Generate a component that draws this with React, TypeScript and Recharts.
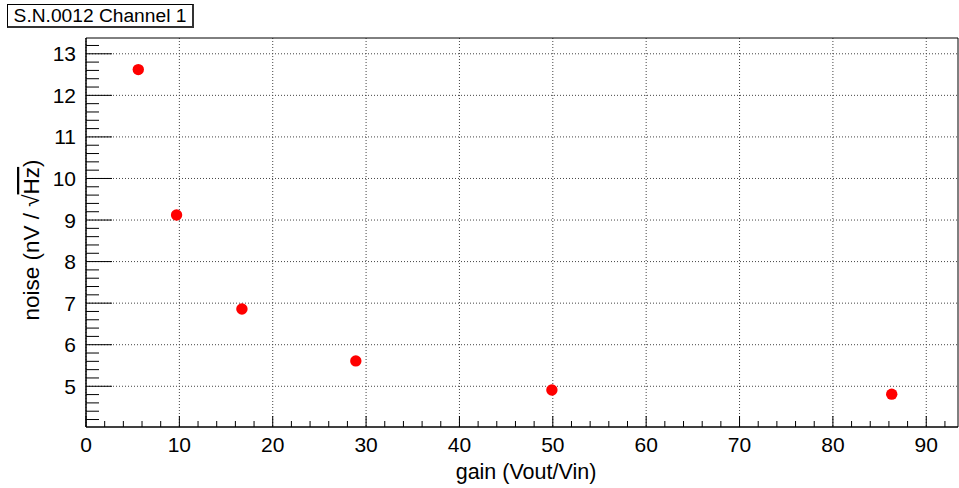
import { ScatterChart, Scatter, XAxis, YAxis, CartesianGrid, ReferenceArea } from "recharts";

const gain = [5.6, 9.7, 16.7, 28.9, 49.9, 86.3];
const noise = [12.62, 9.12, 6.86, 5.61, 4.91, 4.81];

const xMajor = [0, 10, 20, 30, 40, 50, 60, 70, 80, 90];
const yMajor = [5, 6, 7, 8, 9, 10, 11, 12, 13];

const xDomain: [number, number] = [0, 93.4];
const yDomain: [number, number] = [4.02, 13.38];

// minor ticks: 5 subdivisions per major step
const xTicks = Array.from({ length: 47 }, (_, i) => i * 2);
const yTicks = Array.from({ length: 46 }, (_, i) => Math.round((4.2 + i * 0.2) * 10) / 10);

const points = gain.map((g, i) => ({ x: g, y: noise[i] }));

const font = "'Liberation Sans', Arial, Helvetica, sans-serif";

function XTick(props: any) {
  const { x, y, payload } = props;
  const major = payload.value % 10 === 0;
  return (
    <g>
      <line x1={x} x2={x} y1={y} y2={y - (major ? 11 : 6)} stroke="#000" />
      {major && (
        <text x={x} y={y + 25} textAnchor="middle" fontSize={21} fontFamily={font} fill="#000">
          {payload.value}
        </text>
      )}
    </g>
  );
}

function YTick(props: any) {
  const { x, y, payload } = props;
  const major = Math.abs(payload.value - Math.round(payload.value)) < 1e-6;
  return (
    <g>
      <line x1={x} x2={x + (major ? 26 : 13)} y1={y} y2={y} stroke="#000" />
      {major && (
        <text x={x - 10} y={y + 7.5} textAnchor="end" fontSize={21} fontFamily={font} fill="#000">
          {payload.value}
        </text>
      )}
    </g>
  );
}

function XTitle(props: any) {
  const vb = props.viewBox;
  return (
    <text
      x={vb.x + vb.width / 2 + 4}
      y={vb.y + 52}
      textAnchor="middle"
      fontSize={21.5}
      fontFamily={font}
      fill="#000"
    >
      gain (Vout/Vin)
    </text>
  );
}

function YTitle() {
  const cx = 39;
  const cy = 240;
  return (
    <text
      x={cx}
      y={cy}
      transform={`rotate(-90, ${cx}, ${cy})`}
      textAnchor="middle"
      fontSize={22.5}
      fontFamily={font}
      fill="#000"
    >
      noise (nV / √<tspan textDecoration="overline">Hz</tspan>)
    </text>
  );
}

export default function App() {
  return (
    <div style={{ position: "absolute", left: 0, top: 0, width: 959, height: 488, background: "#fff" }}>
      <div
        style={{
          position: "absolute",
          left: 7,
          top: 4,
          width: 184,
          height: 21,
          borderLeft: "1px solid #000",
          borderTop: "1px solid #000",
          borderRight: "2px solid #333",
          borderBottom: "2px solid #333",
          fontFamily: font,
          fontSize: 19.2,
          lineHeight: "22px",
          textAlign: "center",
          background: "#fff",
          zIndex: 1,
          boxSizing: "content-box",
        }}
      >
        S.N.0012 Channel 1
      </div>
      <ScatterChart width={959} height={488} margin={{ top: 38, right: 1, bottom: 0, left: 0 }}>
        <CartesianGrid
          horizontalValues={yMajor}
          verticalValues={xMajor}
          stroke="#444"
          strokeDasharray="1 2"
        />
        <XAxis
          type="number"
          dataKey="x"
          domain={xDomain}
          allowDataOverflow
          ticks={xTicks}
          interval={0}
          tick={<XTick />}
          tickSize={0}
          tickMargin={0}
          tickLine={false}
          axisLine={{ stroke: "#000" }}
          height={61}
          label={{ content: (p: any) => <XTitle {...p} /> }}
        />
        <YAxis
          type="number"
          dataKey="y"
          domain={yDomain}
          allowDataOverflow
          ticks={yTicks}
          interval={0}
          tick={<YTick />}
          tickSize={0}
          tickMargin={0}
          tickLine={false}
          axisLine={{ stroke: "#000" }}
          width={86}
          label={{ content: () => <YTitle /> }}
        />
        <ReferenceArea
          x1={xDomain[0]}
          x2={xDomain[1]}
          y1={yDomain[0]}
          y2={yDomain[1]}
          fill="none"
          stroke="#000"
          ifOverflow="visible"
        />
        <Scatter
          data={points}
          isAnimationActive={false}
          shape={(p: any) => <circle cx={p.cx} cy={p.cy} r={5.7} fill="#ff0000" />}
        />
      </ScatterChart>
    </div>
  );
}
